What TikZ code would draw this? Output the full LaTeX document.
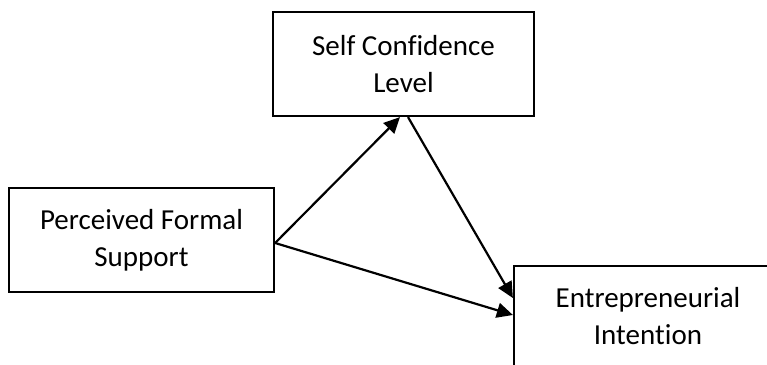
\documentclass[tikz,border=0pt]{standalone}
\usepackage{fontspec}
\setmainfont[Ligatures=NoCommon]{Carlito}
\usetikzlibrary{arrows.meta}
\begin{document}
\begin{tikzpicture}[x=1pt,y=1pt,
  box/.style={draw=black, line width=2.2pt, fill=white, align=center, inner sep=0pt,
    font=\fontsize{29}{37}\selectfont},
  conn/.style={line width=2.2pt, -{Triangle[length=16pt,width=15pt]}}]
\useasboundingbox (0,0) rectangle (767,364);
\clip (0,0) rectangle (767,364);
\node[box, minimum width=261pt, minimum height=104pt] (b1) at (403.5,300) {Self Conf\kern0pti\kern0ptdence\\Level};
\node[box, minimum width=265pt, minimum height=104pt] (b2) at (141.5,124) {Perceived Formal\\Support};
\node[box, minimum width=268pt, minimum height=100pt] (b3) at (648,48) {Entrepreneurial\\Inten\kern0ptt\kern0pti\kern0pton};
\draw[conn] ([yshift=-3pt]b2.east) -- ([xshift=-3.5pt]b1.south);
\draw[conn] ([xshift=4.5pt]b1.south) -- ([yshift=18pt]b3.west);
\draw[conn] ([yshift=-3pt]b2.east) -- ([yshift=1pt]b3.west);
\end{tikzpicture}
\end{document}
